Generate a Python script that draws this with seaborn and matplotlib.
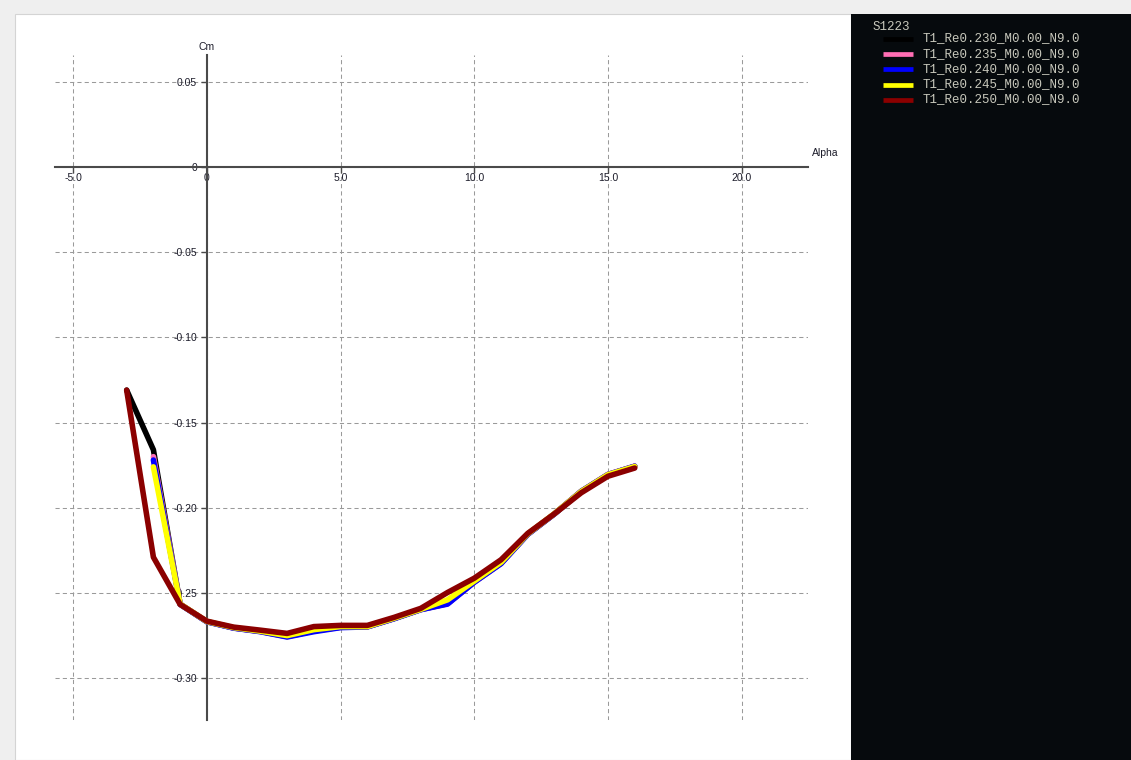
import numpy as np
import pandas as pd
import matplotlib
matplotlib.use("Agg")
import matplotlib.pyplot as plt
from matplotlib.patches import Rectangle
import seaborn as sns

# ---- polar data: S1223, Cm vs Alpha for five Reynolds numbers ----
alpha_long = [-3, -2, -1, 0, 1, 2, 3, 4, 5, 6, 7, 8, 9, 10, 11, 12, 13, 14, 15, 16]
alpha_short = [-2, -1, 0, 1, 2, 3, 4, 5, 6, 7, 8, 9, 10, 11, 12, 13, 14, 15, 16]

cm_re230 = [-0.131, -0.166, -0.2565, -0.2668, -0.2705, -0.2725, -0.2755, -0.2722, -0.2700,
            -0.2698, -0.2650, -0.2597, -0.2562, -0.2435, -0.2325, -0.2155, -0.2035, -0.1903,
            -0.1805, -0.1757]
cm_re235 = [-0.170, -0.2565, -0.2668, -0.2705, -0.2726, -0.2756, -0.2723, -0.2701, -0.2698,
            -0.2650, -0.2597, -0.2563, -0.2436, -0.2326, -0.2155, -0.2035, -0.1903, -0.1804,
            -0.1756]
cm_re240 = [-0.172, -0.2567, -0.2669, -0.2706, -0.2727, -0.2758, -0.2727, -0.2703, -0.2699,
            -0.2651, -0.2598, -0.2565, -0.2437, -0.2328, -0.2156, -0.2036, -0.1904, -0.1805,
            -0.1756]
cm_re245 = [-0.176, -0.2565, -0.2667, -0.2703, -0.2724, -0.2750, -0.2715, -0.2697, -0.2697,
            -0.2648, -0.2596, -0.2540, -0.2430, -0.2320, -0.2153, -0.2034, -0.1905, -0.1806,
            -0.1758]
cm_re250 = [-0.131, -0.229, -0.2567, -0.2665, -0.2700, -0.2718, -0.2737, -0.2697, -0.2690,
            -0.2690, -0.2643, -0.2590, -0.2497, -0.2413, -0.2305, -0.2150, -0.2035, -0.1912,
            -0.1815, -0.1767]

series_names = ["T1_Re0.230_M0.00_N9.0", "T1_Re0.235_M0.00_N9.0", "T1_Re0.240_M0.00_N9.0",
                "T1_Re0.245_M0.00_N9.0", "T1_Re0.250_M0.00_N9.0"]
series_colors = ["#000000", "#ff6eb4", "#0000ff", "#ffff00", "#8b0000"]
series_alpha = [alpha_long, alpha_short, alpha_short, alpha_short, alpha_long]
series_cm = [cm_re230, cm_re235, cm_re240, cm_re245, cm_re250]
foil_name = "S1223"

x_ticks = [-5, 0, 5, 10, 15, 20]
x_tick_labels = ["-5.0", "0", "5.0", "10.0", "15.0", "20.0"]
y_ticks = [0.05, 0.0, -0.05, -0.10, -0.15, -0.20, -0.25, -0.30]
y_tick_labels = ["0.05", "0", "-0.05", "-0.10", "-0.15", "-0.20", "-0.25", "-0.30"]

# ---- figure ----
sns.set_theme(style="white")
plt.rcParams["font.family"] = ["Liberation Sans", "DejaVu Sans"]

W, H = 1131, 760
fig = plt.figure(figsize=(W / 100, H / 100), dpi=100, facecolor="#efefef")

# white graph panel and dark legend panel (behind everything)
fig.patches.append(Rectangle((15 / W, 0), 836 / W, 746 / H, transform=fig.transFigure,
                             facecolor="white", edgecolor="#d4d4d4", linewidth=0.8,
                             zorder=-10))
fig.patches.append(Rectangle((851 / W, 0), 280 / W, 746 / H, transform=fig.transFigure,
                             facecolor="#060a0d", edgecolor="none", zorder=-10))

ax = fig.add_axes([55 / W, 40 / H, 753 / W, 665 / H])
ax.set_facecolor("none")

for name, color, xs, ys in zip(series_names, series_colors, series_alpha, series_cm):
    df = pd.DataFrame({"Alpha": xs, "Cm": ys})
    sns.lineplot(data=df, x="Alpha", y="Cm", color=color, linewidth=4.0, sort=False,
                 estimator=None, ax=ax)

ax.set_xlim(-5.68, 22.48)
ax.set_ylim(-0.3245, 0.0656)
ax.set_xlabel("")
ax.set_ylabel("")

ax.set_xticks(x_ticks)
ax.set_xticklabels(x_tick_labels)
ax.set_yticks(y_ticks)
ax.set_yticklabels(y_tick_labels)

ax.grid(True, color="#9a9a9a", linestyle=(0, (4, 3)), linewidth=0.75)
ax.set_axisbelow(True)

for side in ("top", "right"):
    ax.spines[side].set_visible(False)
for side in ("left", "bottom"):
    ax.spines[side].set_position(("data", 0))
    ax.spines[side].set_color("#4a4a4a")
    ax.spines[side].set_linewidth(1.5)
    ax.spines[side].set_zorder(1.5)

ax.tick_params(axis="both", which="major", direction="out", length=4, width=1,
               color="#4a4a4a", labelsize=7.5, labelcolor="#1c1c2a")
ax.tick_params(axis="x", pad=0.5, bottom=True)
ax.tick_params(axis="y", pad=3, left=True)

ax.annotate("Cm", xy=(0, 1), xycoords=("data", "axes fraction"), xytext=(0, 2),
            textcoords="offset points", ha="center", va="bottom", fontsize=7.5,
            color="#1c1c2a")
ax.annotate("Alpha", xy=(1, 0), xycoords=("axes fraction", "data"), xytext=(3, 6),
            textcoords="offset points", ha="left", va="bottom", fontsize=7.5,
            color="#1c1c2a")

# ---- legend in the dark side panel (pixel coordinates) ----
lax = fig.add_axes([851 / W, 0, 280 / W, 746 / H])
lax.set_facecolor("none")
lax.set_xlim(851, 1131)
lax.set_ylim(760, 14)
lax.set_xticks([])
lax.set_yticks([])
for sp in lax.spines.values():
    sp.set_visible(False)

mono = ["Liberation Mono", "DejaVu Sans Mono"]
text_color = "#c8c8bc"
lax.text(873, 27, foil_name, family=mono, fontsize=9, color=text_color,
         ha="left", va="center")
row_y = [38.5, 54, 69, 84.5, 99.5]
for name, color, y in zip(series_names, series_colors, row_y):
    lax.plot([883, 913], [y, y], color=color, linewidth=3.4, solid_capstyle="butt")
    lax.text(923, y, name, family=mono, fontsize=9, color=text_color,
             ha="left", va="center")

fig.savefig("out.png", dpi=100, facecolor=fig.get_facecolor())
